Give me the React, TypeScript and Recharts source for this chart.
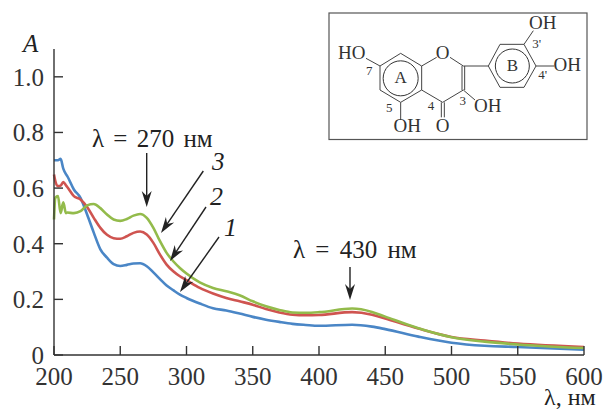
import React from 'react';
import { LineChart, Line, XAxis, YAxis } from 'recharts';

// wavelength grid shared by the three spectra
const wavelengths = [200, 201, 203, 205, 207, 209, 210, 215, 220, 225, 230, 235, 240, 245, 250, 255, 260, 265, 270, 275, 280, 285, 290, 295, 300, 310, 320, 330, 340, 350, 360, 370, 380, 390, 400, 425, 440, 450, 475, 500, 525, 550, 600];

const curve1 = [0.70, 0.70, 0.70, 0.705, 0.67, 0.65, 0.643, 0.595, 0.565, 0.505, 0.44, 0.38, 0.35, 0.327, 0.32, 0.324, 0.329, 0.33, 0.319, 0.297, 0.273, 0.25, 0.233, 0.217, 0.205, 0.185, 0.168, 0.16, 0.149, 0.137, 0.127, 0.119, 0.112, 0.108, 0.105, 0.109, 0.102, 0.093, 0.066, 0.044, 0.033, 0.029, 0.019];
const curve2 = [0.649, 0.625, 0.607, 0.609, 0.622, 0.61, 0.604, 0.571, 0.559, 0.532, 0.493, 0.457, 0.432, 0.42, 0.418, 0.427, 0.439, 0.444, 0.433, 0.403, 0.361, 0.325, 0.301, 0.283, 0.269, 0.241, 0.221, 0.205, 0.193, 0.181, 0.165, 0.153, 0.145, 0.143, 0.144, 0.154, 0.145, 0.131, 0.095, 0.065, 0.052, 0.041, 0.029];
const curve3 = [0.487, 0.565, 0.571, 0.51, 0.549, 0.51, 0.512, 0.51, 0.517, 0.538, 0.543, 0.528, 0.505, 0.487, 0.482, 0.489, 0.501, 0.507, 0.493, 0.457, 0.409, 0.367, 0.337, 0.313, 0.293, 0.261, 0.241, 0.229, 0.215, 0.193, 0.175, 0.162, 0.153, 0.152, 0.154, 0.167, 0.155, 0.138, 0.096, 0.064, 0.048, 0.038, 0.025];

const xTicks = [200, 250, 300, 350, 400, 450, 500, 550, 600];
const yTicks = [0, 0.2, 0.4, 0.6, 0.8, 1.0];

const chartData = wavelengths.map((w, i) => ({ w, a: curve1[i], b: curve2[i], c: curve3[i] }));

const INK = '#333';
const SERIF = '"Liberation Serif", serif';

// annotation arrows [x1, y1, x2, y2]
const arrows = [
  [146.7, 153, 146.7, 207],
  [203.3, 171, 161, 233],
  [206, 207, 170, 261],
  [219, 237, 180, 292],
  [350, 267, 350, 300],
];

// structure formula, in 3x inset coordinates
const bonds = [
  [242, 160, 305, 198], [305, 198, 305, 270], [305, 270, 242, 307], [242, 307, 180, 270], [180, 270, 180, 198], [180, 198, 242, 160],
  [305, 198, 350, 172], [390, 172, 430, 198], [426, 198, 426, 270], [434, 198, 434, 270], [430, 270, 368, 307], [368, 307, 305, 270],
  [364, 307, 364, 352], [373, 307, 373, 352], [430, 270, 465, 300], [242, 307, 242, 360], [180, 198, 138, 175], [430, 198, 505, 198],
  [505, 198, 540, 133], [540, 133, 612, 133], [612, 133, 648, 198], [648, 198, 612, 262], [612, 262, 540, 262], [540, 262, 505, 198],
  [612, 133, 640, 92], [648, 198, 703, 198],
];
const atoms: [string, number, number, number][] = [
  ['HO', 95, 178, 19], ['OH', 262, 396, 19], ['O', 368, 396, 19], ['OH', 503, 337, 19], ['O', 368, 177, 19],
  ['OH', 668, 86, 19], ['OH', 742, 214, 19], ['A', 242, 249, 17], ['B', 577, 214, 17],
  ['7', 148, 224, 13], ['5', 208, 335, 13], ['4', 333, 331, 13], ['3', 428, 315, 13], ["3'", 650, 145, 13], ["4'", 668, 238, 13],
];

function Arrow({ p }: { p: number[] }) {
  const [x1, y1, x2, y2] = p;
  const t = Math.atan2(y2 - y1, x2 - x1);
  const len = 16;
  const wing = 5;
  const bx = x2 - len * Math.cos(t);
  const by = y2 - len * Math.sin(t);
  const nx = -Math.sin(t) * wing;
  const ny = Math.cos(t) * wing;
  const nock = 11;
  const head = `${x2},${y2} ${bx + nx},${by + ny} ${x2 - nock * Math.cos(t)},${y2 - nock * Math.sin(t)} ${bx - nx},${by - ny}`;
  return (
    <g>
      <line x1={x1} y1={y1} x2={x2 - nock * Math.cos(t)} y2={y2 - nock * Math.sin(t)} stroke="#222" strokeWidth={1.4} />
      <polygon points={head} fill="#222" />
    </g>
  );
}

function Overlay() {
  return (
    <svg width={606} height={411} style={{ position: 'absolute', left: 0, top: 0 }} fontFamily={SERIF} fill="#222">
      <text x={23} y={52} fontSize={25} fontStyle="italic">A</text>
      <text x={92} y={147} fontSize={25} wordSpacing={3}>λ = 270 нм</text>
      <text x={293} y={258} fontSize={25} wordSpacing={4}>λ = 430 нм</text>
      <text x={544} y={405} fontSize={24}>λ, нм</text>
      <text x={212} y={170} fontSize={25} fontStyle="italic">3</text>
      <text x={210} y={205} fontSize={26} fontStyle="italic">2</text>
      <text x={224} y={236} fontSize={26} fontStyle="italic">1</text>
      {arrows.map((a, i) => <Arrow key={i} p={a} />)}

      <rect x={329} y={13} width={258} height={126.5} fill="#fff" stroke="#555" strokeWidth={1.2} />
      <g transform="translate(320,0)">
        {bonds.map((b, i) => (
          <line key={i} x1={b[0] / 3} y1={b[1] / 3} x2={b[2] / 3} y2={b[3] / 3} stroke="#444" strokeWidth={1} />
        ))}
        <circle cx={242 / 3} cy={235 / 3} r={17.5} fill="none" stroke="#333" strokeWidth={1} />
        <circle cx={577 / 3} cy={198 / 3} r={17} fill="none" stroke="#333" strokeWidth={1} />
        {atoms.map(([t, x, y, s], i) => (
          <text key={i} x={x / 3} y={y / 3} fontSize={s} textAnchor="middle" fill="#333">{t}</text>
        ))}
      </g>
    </svg>
  );
}

export default function App() {
  return (
    <div style={{ position: 'absolute', left: 0, top: 0, width: 606, height: 411, background: '#fff' }}>
      <LineChart width={606} height={411} data={chartData} margin={{ top: 49, right: 22, bottom: 0, left: 0 }}>
        <XAxis
          dataKey="w"
          type="number"
          domain={[200, 600]}
          ticks={xTicks}
          height={56}
          tickSize={-9}
          tickMargin={21}
          interval={0}
          stroke={INK}
          strokeWidth={1.4}
          tick={{ fontSize: 25, fontFamily: SERIF, fill: '#333' }}
        />
        <YAxis
          type="number"
          domain={[0, 1.1]}
          ticks={yTicks}
          width={54}
          tickSize={-9}
          tickMargin={19}
          interval={0}
          stroke={INK}
          strokeWidth={1.4}
          tickFormatter={(v: number) => (v === 0 ? '0' : v.toFixed(1))}
          tick={{ fontSize: 25, fontFamily: SERIF, fill: '#333' }}
        />
        <Line dataKey="a" type="monotone" stroke="#4a86c6" strokeWidth={2.6} dot={false} isAnimationActive={false} />
        <Line dataKey="b" type="monotone" stroke="#cf5450" strokeWidth={2.6} dot={false} isAnimationActive={false} />
        <Line dataKey="c" type="monotone" stroke="#93bb4b" strokeWidth={2.6} dot={false} isAnimationActive={false} />
      </LineChart>
      <Overlay />
    </div>
  );
}
